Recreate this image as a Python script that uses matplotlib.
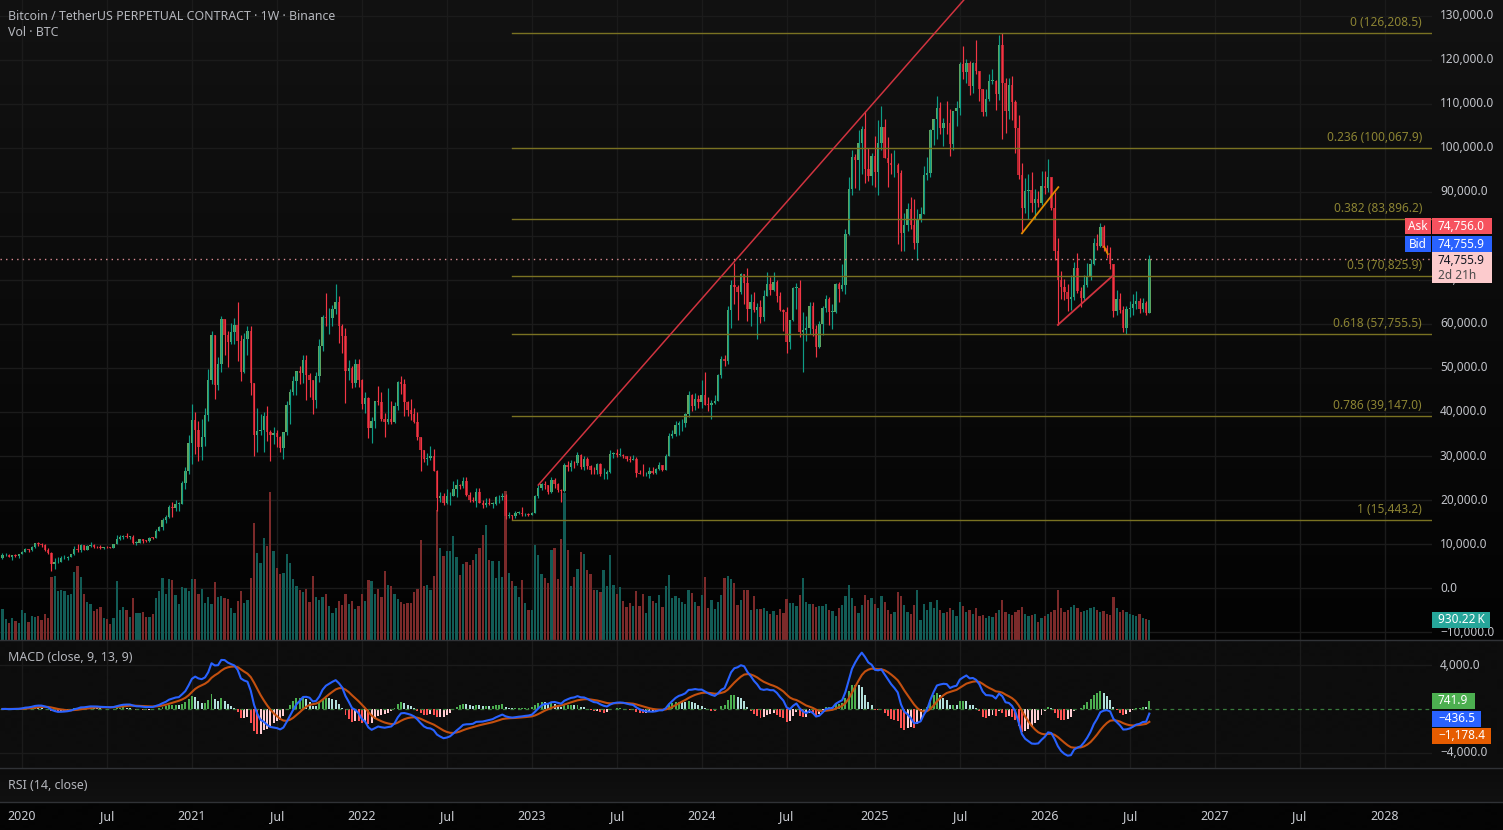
import numpy as np
import pandas as pd
import matplotlib
matplotlib.use("Agg")
import matplotlib.pyplot as plt
from matplotlib.patches import Rectangle
from matplotlib.transforms import blended_transform_factory, offset_copy

plt.rcParams['font.family'] = ['Noto Sans', 'DejaVu Sans']

# ------------------------------------------------------------------ data
FIRST_WEEK = "2019-11-25"          # date of the first weekly candle
first_open_k = 6.90                # open of the first candle (thousand USDT)

close_k = [
    7.42, 7.52, 7.10, 7.50, 7.38, 7.76, 8.18, 8.92, 8.60, 9.38,
    10.15, 9.92, 9.66, 8.53, 8.03, 5.36, 5.82, 5.88, 6.78, 6.90,
    7.12, 7.70, 8.90, 8.73, 9.68, 8.72, 9.45, 9.66, 9.33, 9.30,
    9.01, 9.29, 9.23, 9.16, 9.93, 11.05, 11.57, 11.85, 11.65, 11.70,
    10.28, 10.33, 11.09, 10.77, 10.69, 11.38, 11.36, 13.03, 13.80, 15.48,
    16.05, 18.40, 18.18, 19.15, 19.15, 23.85, 26.50, 33.00, 38.20, 36.00,
    32.10, 34.30, 39.30, 47.20, 57.50, 46.20, 51.00, 61.20, 57.40, 55.80,
    58.20, 59.80, 56.20, 49.10, 56.60, 58.30, 46.50, 34.80, 35.70, 35.80,
    39.00, 35.50, 34.70, 35.30, 34.30, 31.80, 35.40, 41.50, 44.60, 47.10,
    49.30, 48.80, 51.80, 48.30, 47.30, 42.70, 48.20, 54.90, 61.50, 61.30,
    61.30, 63.30, 65.00, 59.60, 57.30, 49.40, 50.10, 46.70, 50.80, 47.30,
    41.90, 43.10, 36.30, 37.90, 42.40, 42.20, 38.40, 37.70, 38.40, 37.80,
    41.30, 46.80, 46.40, 42.20, 40.40, 39.50, 37.70, 34.30, 31.30, 29.40,
    29.50, 29.90, 26.60, 20.55, 21.00, 19.30, 20.80, 20.80, 22.60, 23.30,
    23.20, 24.30, 21.10, 20.00, 19.80, 21.80, 19.40, 18.80, 19.30, 19.10,
    19.20, 20.60, 20.60, 20.90, 16.30, 16.60, 16.45, 17.10, 17.10, 16.75,
    16.85, 16.55, 17.13, 20.90, 22.70, 23.75, 23.30, 21.80, 24.60, 23.55,
    22.20, 22.10, 28.00, 27.50, 28.45, 28.30, 30.30, 27.60, 29.25, 27.70,
    26.90, 26.75, 28.10, 25.85, 25.90, 26.30, 30.50, 30.60, 30.30, 30.30,
    29.90, 29.25, 29.05, 29.30, 26.10, 26.00, 25.85, 25.85, 26.55, 26.25,
    27.00, 27.90, 26.85, 30.00, 34.50, 35.00, 37.10, 37.40, 37.45, 39.45,
    43.80, 41.40, 43.00, 42.30, 43.95, 41.70, 41.60, 42.00, 42.60, 48.30,
    52.10, 51.70, 63.10, 68.90, 68.30, 67.20, 71.30, 69.40, 63.40, 64.90,
    63.10, 63.90, 61.50, 66.30, 69.00, 67.80, 69.60, 66.30, 63.20, 62.70,
    55.90, 60.80, 68.20, 68.20, 58.10, 58.70, 59.00, 64.20, 58.90, 54.80,
    59.90, 63.60, 65.70, 62.80, 62.80, 69.00, 67.90, 68.80, 80.40, 90.60,
    97.90, 97.30, 101.10, 104.40, 95.20, 93.70, 98.20, 94.50, 101.10, 104.80,
    97.70, 96.50, 96.10, 96.20, 94.30, 80.70, 82.60, 86.10, 82.40, 78.40,
    83.80, 85.10, 93.80, 94.30, 104.10, 106.50, 109.00, 104.60, 105.70, 105.60,
    100.90, 108.40, 109.20, 119.10, 117.30, 119.40, 114.20, 119.30, 117.40, 113.50,
    108.20, 111.10, 115.30, 115.30, 112.20, 123.50, 114.70, 108.30, 114.30, 110.50,
    104.50, 93.90, 86.40, 90.20, 90.40, 87.60, 88.30, 87.60, 91.40, 90.80,
    93.40, 86.30, 76.60, 70.10, 68.50, 67.30, 65.60, 66.20, 72.70, 67.60,
    65.80, 68.90, 70.80, 73.60, 78.30, 77.80, 82.00, 77.20, 76.20, 73.60,
    63.00, 65.60, 63.20, 59.20, 63.30, 63.60, 64.50, 65.20, 63.30, 64.80,
    62.60, 74.7559,
]

high_k = [
    7.85, 7.90, 7.65, 7.60, 7.70, 7.80, 8.45, 9.20, 8.95, 9.60,
    10.20, 10.50, 10.25, 9.95, 9.19, 8.20, 6.90, 6.95, 7.20, 7.47,
    7.30, 7.80, 9.50, 10.00, 9.90, 9.85, 9.70, 10.40, 9.95, 9.60,
    9.80, 9.38, 9.45, 9.30, 10.00, 12.10, 12.00, 12.15, 12.50, 11.80,
    12.10, 10.60, 11.20, 11.00, 10.90, 11.50, 11.70, 13.35, 14.10, 15.95,
    16.50, 18.80, 19.50, 19.90, 19.50, 24.30, 27.40, 34.80, 41.90, 40.10,
    37.90, 38.50, 40.90, 49.70, 58.30, 57.50, 52.50, 61.80, 61.20, 58.40,
    60.20, 61.30, 64.90, 57.50, 58.00, 59.60, 59.60, 46.00, 40.80, 39.50,
    40.00, 41.30, 36.00, 36.60, 35.90, 34.60, 35.50, 42.60, 45.30, 48.10,
    49.40, 50.50, 52.90, 52.90, 48.80, 47.30, 49.20, 56.60, 62.00, 67.00,
    63.70, 64.30, 69.00, 66.30, 60.00, 59.20, 51.90, 50.40, 52.10, 52.10,
    47.60, 44.50, 43.50, 38.90, 42.50, 45.80, 44.50, 39.80, 45.40, 42.60,
    42.30, 47.00, 48.20, 47.50, 42.40, 42.90, 40.80, 40.00, 34.20, 31.30,
    30.70, 32.20, 31.50, 26.80, 21.80, 21.50, 22.40, 21.90, 24.30, 24.70,
    23.60, 25.20, 25.20, 21.90, 20.60, 22.80, 22.80, 19.90, 20.40, 20.50,
    19.50, 20.90, 21.10, 21.50, 21.40, 17.20, 16.70, 17.40, 17.40, 18.40,
    17.10, 16.95, 17.20, 21.20, 23.40, 23.95, 24.25, 23.40, 25.30, 25.10,
    23.90, 22.60, 28.40, 28.90, 29.20, 28.80, 31.00, 30.50, 30.00, 29.80,
    28.00, 27.60, 28.40, 28.45, 27.35, 26.80, 31.40, 31.00, 31.50, 31.80,
    30.40, 29.50, 30.00, 30.20, 29.70, 26.80, 28.10, 26.40, 27.50, 27.50,
    27.30, 28.60, 27.90, 30.40, 35.20, 35.90, 38.00, 37.90, 38.40, 39.70,
    44.70, 44.00, 44.40, 43.80, 47.20, 49.00, 43.30, 42.80, 43.90, 48.60,
    52.80, 52.90, 64.00, 69.90, 73.80, 68.90, 71.70, 71.30, 72.80, 66.90,
    67.20, 64.70, 65.50, 67.70, 71.90, 70.60, 71.90, 70.00, 67.20, 63.40,
    63.80, 61.00, 68.40, 69.40, 70.00, 62.70, 61.80, 65.00, 64.90, 59.80,
    60.70, 64.10, 66.50, 66.10, 64.50, 69.40, 69.50, 73.60, 81.50, 93.50,
    99.60, 98.70, 104.00, 105.00, 108.40, 99.90, 98.90, 102.70, 106.40, 109.60,
    106.50, 102.50, 98.80, 99.50, 96.60, 95.00, 85.20, 87.50, 88.80, 88.50,
    86.10, 86.50, 95.80, 97.90, 104.30, 106.70, 111.90, 110.40, 106.80, 110.60,
    108.90, 108.50, 110.60, 119.50, 123.20, 120.20, 119.80, 119.50, 124.50, 117.60,
    113.50, 113.40, 116.80, 117.90, 115.40, 125.70, 126.20, 115.90, 116.00, 116.40,
    111.00, 107.50, 96.60, 93.10, 94.20, 94.50, 90.70, 90.30, 94.80, 94.80,
    97.60, 93.50, 90.00, 79.50, 72.00, 70.20, 69.00, 71.20, 74.00, 76.10,
    68.50, 71.20, 73.80, 74.80, 79.50, 80.50, 83.00, 82.40, 78.00, 77.50,
    73.60, 67.80, 67.00, 64.00, 64.10, 65.20, 66.80, 67.50, 66.00, 65.80,
    65.30, 75.70,
]

low_k = [
    6.53, 7.20, 7.00, 6.40, 7.10, 6.90, 7.67, 8.10, 8.25, 8.50,
    9.10, 9.60, 9.30, 8.40, 7.63, 3.80, 4.40, 5.70, 5.85, 6.60,
    6.45, 7.00, 7.60, 8.10, 8.20, 8.60, 8.65, 9.30, 9.10, 9.20,
    8.95, 8.90, 9.05, 9.00, 9.10, 9.90, 10.95, 11.10, 11.30, 11.10,
    9.90, 9.80, 10.20, 10.15, 10.40, 10.50, 11.20, 11.30, 12.90, 13.20,
    14.80, 15.80, 16.20, 17.60, 17.60, 19.00, 22.40, 26.00, 28.10, 30.40,
    28.80, 29.20, 32.30, 37.90, 46.30, 43.00, 45.00, 49.20, 53.00, 50.30,
    55.50, 55.40, 51.50, 47.00, 48.80, 52.90, 43.80, 30.00, 31.00, 34.80,
    31.00, 33.30, 28.80, 32.70, 32.10, 31.00, 29.30, 34.80, 37.30, 43.80,
    43.90, 46.40, 46.50, 42.80, 43.40, 39.60, 40.80, 46.90, 53.90, 59.50,
    57.80, 59.50, 62.30, 55.60, 53.30, 42.00, 47.20, 45.50, 45.60, 45.70,
    40.60, 39.70, 34.00, 32.90, 36.30, 41.70, 38.00, 34.30, 37.20, 37.20,
    37.60, 40.50, 44.20, 39.20, 39.20, 38.20, 37.60, 33.70, 26.70, 28.60,
    28.00, 29.20, 26.50, 17.60, 19.60, 18.80, 19.00, 18.90, 20.80, 20.70,
    22.40, 22.70, 20.80, 19.50, 19.60, 18.50, 19.30, 18.10, 18.50, 18.90,
    18.20, 18.90, 19.30, 20.00, 15.60, 15.80, 15.47, 16.00, 16.90, 16.30,
    16.30, 16.30, 16.50, 17.10, 20.40, 22.30, 22.50, 21.40, 21.50, 22.80,
    21.90, 19.60, 21.90, 26.60, 26.50, 27.20, 28.00, 27.10, 26.90, 27.00,
    25.80, 26.00, 25.90, 25.40, 24.80, 24.80, 26.20, 29.50, 29.70, 29.90,
    29.60, 28.90, 28.60, 29.00, 25.20, 25.80, 25.40, 25.40, 24.90, 26.00,
    26.00, 26.90, 26.50, 26.80, 29.90, 34.00, 34.50, 34.80, 35.60, 36.70,
    38.90, 40.20, 40.50, 41.00, 40.80, 41.50, 40.30, 38.50, 41.90, 42.50,
    47.70, 50.50, 50.90, 59.00, 64.50, 60.80, 66.90, 64.50, 60.70, 59.60,
    62.80, 56.50, 60.20, 60.60, 66.30, 66.70, 67.50, 65.10, 63.00, 58.40,
    53.50, 54.30, 60.60, 63.40, 57.10, 49.00, 56.10, 57.80, 57.20, 52.50,
    54.60, 57.50, 62.70, 59.80, 58.90, 62.40, 65.10, 67.50, 66.80, 80.20,
    89.40, 90.80, 90.50, 94.10, 92.10, 92.50, 91.50, 91.20, 89.30, 99.50,
    97.70, 91.20, 94.10, 93.40, 78.20, 76.60, 76.60, 81.20, 81.60, 77.10,
    74.50, 83.10, 85.10, 92.80, 93.40, 100.70, 102.10, 103.10, 100.40, 103.20,
    98.20, 99.60, 105.10, 107.50, 115.70, 114.70, 112.00, 112.60, 116.80, 110.70,
    107.30, 107.30, 110.60, 114.60, 108.60, 111.00, 102.00, 103.50, 106.70, 106.30,
    98.90, 93.00, 80.70, 85.30, 83.90, 85.40, 83.80, 86.50, 87.00, 89.50,
    90.00, 86.00, 74.50, 59.80, 65.70, 65.40, 62.90, 63.20, 65.50, 67.00,
    63.80, 65.50, 68.40, 70.00, 73.50, 76.80, 77.50, 76.50, 75.00, 72.40,
    61.50, 62.00, 62.50, 58.20, 57.80, 61.50, 62.00, 63.50, 62.50, 62.80,
    62.00, 62.50,
]

volume_k = [   # weekly volume, thousand BTC
    1440, 980, 790, 1020, 880, 790, 1400, 1260, 840, 1120,
    1070, 1120, 930, 1210, 1020, 2930, 2980, 2280, 2330, 2280,
    2090, 2140, 3160, 3440, 2930, 2140, 1770, 1670, 1350, 1440,
    1530, 1020, 980, 740, 1020, 2740, 1400, 1530, 1400, 1070,
    1950, 1260, 1260, 1300, 1070, 1070, 1210, 1950, 2280, 2880,
    2140, 2840, 2790, 2090, 1670, 2460, 2420, 2280, 2840, 2840,
    2140, 2370, 1720, 2000, 1670, 2700, 2000, 2050, 1950, 1910,
    1490, 1260, 1810, 2280, 1720, 1860, 2880, 5440, 4050, 3580,
    4740, 4370, 6880, 4140, 3350, 3070, 3120, 4000, 3580, 2840,
    2510, 2330, 2230, 2370, 1770, 2980, 2000, 1860, 2000, 2140,
    1580, 1260, 1490, 1810, 1630, 2140, 1670, 1810, 1440, 1580,
    2140, 1810, 2790, 2740, 2140, 2370, 2000, 3210, 2560, 2510,
    2140, 1910, 1770, 1670, 1720, 1720, 2230, 2370, 4650, 2510,
    2560, 2330, 2980, 6050, 4280, 3910, 4140, 4140, 4840, 3860,
    3020, 3530, 3630, 3490, 3720, 4000, 4280, 4880, 5350, 3720,
    3670, 2880, 3670, 2930, 6930, 3120, 2740, 2510, 2000, 2790,
    1720, 1400, 1400, 4420, 3950, 3070, 2880, 2650, 4190, 4280,
    2840, 4700, 6840, 4190, 2510, 2930, 3300, 4090, 4000, 3260,
    3070, 2330, 2330, 2230, 3260, 2510, 3950, 2560, 2140, 2460,
    1810, 1530, 1720, 1580, 2280, 1580, 2140, 1260, 2050, 1810,
    1720, 2090, 1530, 2510, 3020, 1950, 2050, 1950, 1770, 1670,
    2330, 2190, 1770, 1580, 2090, 2930, 1490, 1860, 1440, 1770,
    2090, 2880, 2980, 2840, 2650, 1630, 1860, 2330, 2330, 1400,
    2050, 1440, 1440, 1490, 1350, 1210, 1350, 1160, 1440, 1260,
    1910, 1720, 1720, 1580, 2090, 2880, 1770, 1670, 1670, 1530,
    1580, 1580, 1670, 1400, 1350, 1120, 1490, 1630, 2050, 2560,
    1950, 1580, 1260, 1630, 2090, 1860, 1950, 1670, 1490, 2050,
    1770, 1400, 1210, 1300, 2230, 2050, 1630, 1300, 1210, 1630,
    2330, 930, 1670, 1400, 1770, 1490, 1860, 1400, 1260, 1300,
    1490, 1400, 1120, 1770, 1580, 1300, 1400, 1210, 1490, 1120,
    1160, 1020, 1120, 1070, 1260, 1400, 1860, 1300, 1210, 1160,
    1300, 1400, 1530, 1210, 1120, 1160, 1210, 840, 1020, 1120,
    1210, 1300, 1400, 2330, 1490, 1300, 1400, 1530, 1630, 1490,
    1300, 1350, 1400, 1490, 1530, 1400, 1300, 1350, 1210, 1160,
    2000, 1490, 1300, 1400, 1300, 1210, 1160, 1120, 1210, 1020,
    980, 930.22,
]

title_text = "Bitcoin / TetherUS PERPETUAL CONTRACT \u00b7 1W \u00b7 Binance"
vol_title = "Vol \u00b7 BTC"
macd_title = "MACD (close, 9, 13, 9)"
rsi_title = "RSI (14, close)"
macd_fast, macd_slow, macd_sig = 9, 13, 9

last_price = 74755.9
ask_text, bid_text, last_text, countdown = "74,756.0", "74,755.9", "74,755.9", "2d 21h"
volume_last_text = "930.22\u2009K"
hist_last, macd_last, signal_last = 741.9, -436.5, -1178.4
hist_text, macd_text, signal_text = "741.9", "\u2212436.5", "\u22121,178.4"

fib_ratios = [0, 0.236, 0.382, 0.5, 0.618, 0.786, 1]
fib_prices = [126208.5, 100067.9, 83896.2, 70825.9, 57755.5, 39147.0, 15443.2]
fib_anchor_week = "2022-11-21"

red_ray_pts = [("2023-01-16", 23400), ("2024-04-22", 79270)]
orange_line_pts = [("2025-11-17", 80600), ("2026-02-03", 91100)]
red_line2_pts = [("2026-02-02", 59800), ("2026-06-01", 71100)]
orange_tick_pts = [("2026-05-12", 77600), ("2026-05-20", 75900)]

price_ticks = list(range(-10000, 130001, 10000))
hidden_price_ticks = [80000]      # fully covered by the Ask/Bid badges
macd_ticks = [-4000, 4000]

# ------------------------------------------------------------------ derived
n = len(close_k)
assert len(high_k) == n and len(low_k) == n and len(volume_k) == n
start = pd.Timestamp(FIRST_WEEK)

def wpos(d):
    return (pd.Timestamp(d) - start).days / 7.0

idx = np.arange(n)
close = np.array(close_k) * 1000
open_ = np.r_[first_open_k * 1000, close[:-1]]
high = np.maximum(np.array(high_k) * 1000, np.maximum(open_, close))
low = np.minimum(np.array(low_k) * 1000, np.minimum(open_, close))
vol = np.array(volume_k, dtype=float)
up = close >= open_

s = pd.Series(close)
macd = (s.ewm(span=macd_fast, adjust=False).mean() - s.ewm(span=macd_slow, adjust=False).mean()).values
signal = pd.Series(macd).ewm(span=macd_sig, adjust=False).mean().values
hist = macd - signal
prev = np.r_[hist[0], hist[:-1]]
hist_col = np.where(hist >= 0,
                    np.where(hist > prev, '#4CAF50', '#B2DFDB'),
                    np.where(hist > prev, '#FFCDD2', '#FF5252'))

# time labels: first weekly bar of Jan / Jul
tick_pos, tick_lab, tick_year = [], [], []
for y in range(2020, 2029):
    for m in (1, 7):
        if y == 2028 and m == 7:
            continue
        d = pd.Timestamp(y, m, 1)
        d = d + pd.Timedelta(days=(7 - d.weekday()) % 7)
        tick_pos.append(wpos(d))
        tick_lab.append(str(y) if m == 1 else "Jul")
        tick_year.append(m == 1)

# ------------------------------------------------------------------ layout
W, H = 1503, 830
PLOT_R = 1432
MAIN_B, MACD_B, RSI_B = 640, 768, 802
XLIM = (-0.73, 437.5)
PRICE_LIM = (-11818, 133636)
VOL_TOP = 29760
MACD_LIM = (-5398, 6313)

fig = plt.figure(figsize=(W / 100, H / 100), dpi=100)

def rect(x0, y0, x1, y1):
    return [x0 / W, 1 - y1 / H, (x1 - x0) / W, (y1 - y0) / H]

# background
bg = fig.add_axes([0, 0, 1, 1], zorder=0)
rows = np.zeros((H, 1, 3))
for r in range(H):
    if r < MAIN_B:
        v = 18 - 15 * r / MAIN_B
    elif r < MACD_B:
        v = 13
    elif r < RSI_B:
        v = 12 + 5 * (r - MACD_B) / (RSI_B - MACD_B)
    else:
        v = 4
    rows[r, 0, :] = v / 255
bg.imshow(rows, aspect='auto', extent=[0, W, H, 0], interpolation='bilinear')
bg.set_xlim(0, W); bg.set_ylim(H, 0); bg.axis('off')

def clean(a):
    a.set_facecolor('none')
    for sp in a.spines.values():
        sp.set_visible(False)
    a.tick_params(length=0, labelleft=False, labelbottom=False,
                  labelright=False, labeltop=False)
    a.set_xlim(*XLIM)

GRID = '#1b1b1b'
ax_grid = fig.add_axes(rect(0, 0, PLOT_R, MAIN_B), zorder=1)
ax_vol = fig.add_axes(rect(0, 0, PLOT_R, MAIN_B), zorder=2)
ax = fig.add_axes(rect(0, 0, PLOT_R, MAIN_B), zorder=3)
ax_m = fig.add_axes(rect(0, MAIN_B, PLOT_R, MACD_B), zorder=3)
ax_r = fig.add_axes(rect(0, MACD_B, PLOT_R, RSI_B), zorder=3)
for a in (ax_grid, ax_vol, ax, ax_m, ax_r):
    clean(a)

ax_grid.set_ylim(*PRICE_LIM)
ax_grid.set_xticks(tick_pos); ax_grid.set_yticks(price_ticks)
ax_grid.grid(True, color=GRID, lw=1)

# volume
ax_vol.set_ylim(0, VOL_TOP)
ax_vol.bar(idx, vol, width=0.7, color=np.where(up, '#125C56', '#7B2A2A'), linewidth=0)

# candles
ax.set_ylim(*PRICE_LIM)
ax.vlines(idx, low, high, colors=np.where(up, '#0E9C86', '#F23645'), lw=0.85)
body_lo = np.minimum(open_, close)
body_h = np.maximum(np.abs(close - open_), 120)
ax.bar(idx, body_h, bottom=body_lo, width=0.74,
       color=np.where(up, '#62A55E', '#B3242F'), linewidth=0)

# fib levels
fx0 = wpos(fib_anchor_week)
ftrans = offset_copy(blended_transform_factory(fig.transFigure, ax.transData),
                     fig=fig, y=4, units='dots')
for r, p in zip(fib_ratios, fib_prices):
    ax.plot([fx0, XLIM[1]], [p, p], color='#7A7222', lw=1.0)
    ax.text(1422 / W, p, f"{r:g} ({p:,.1f})", transform=ftrans, ha='right',
            va='bottom', color='#8C8433', fontsize=8.6, clip_on=False)

# trend lines
def seg(pts):
    return [wpos(d) for d, _ in pts], [v for _, v in pts]

rx, ry = seg(red_ray_pts)
slope = (ry[1] - ry[0]) / (rx[1] - rx[0])
ax.plot([rx[0], XLIM[1]], [ry[0], ry[0] + slope * (XLIM[1] - rx[0])],
        color='#D0333F', lw=1.1)
for pts, col in ((orange_line_pts, '#E08A00'), (red_line2_pts, '#D0333F'),
                 (orange_tick_pts, '#E08A00')):
    x_, y_ = seg(pts)
    ax.plot(x_, y_, color=col, lw=1.3)

# current price dotted line
ax.plot(XLIM, [last_price, last_price], color='#D98A90', lw=1.0,
        linestyle=(0, (1, 3)))

# MACD pane
ax_m.set_ylim(*MACD_LIM)
ax_m.set_xticks(tick_pos); ax_m.set_yticks(macd_ticks)
ax_m.grid(True, color=GRID, lw=1)
ax_m.set_axisbelow(True)
ax_m.plot(XLIM, [0, 0], color='#3A7A3C', lw=0.9, linestyle=(0, (3, 3)))
ax_m.bar(idx, hist, width=0.6, color=hist_col, linewidth=0)
ax_m.plot(idx, signal, color='#C4500F', lw=1.5)
ax_m.plot(idx, macd, color='#2962FF', lw=1.5)

# RSI pane: time labels
ax_r.set_ylim(0, 1)
ax_r.set_xticks(tick_pos)
ax_r.set_xticklabels(tick_lab)
ax_r.tick_params(labelbottom=True, pad=5.5, labelsize=9, labelcolor='#C9CBD1')
for lab, isy in zip(ax_r.get_xticklabels(), tick_year):
    lab.set_fontweight('bold' if isy else 'normal')

# titles
TXT = '#B5B7BD'
fig.text(8 / W, 1 - 16 / H, title_text, color=TXT, fontsize=8.95, va='center')
fig.text(8 / W, 1 - 33 / H, vol_title, color=TXT, fontsize=8.95, va='center')
fig.text(8 / W, 1 - 657 / H, macd_title, color=TXT, fontsize=8.95, va='center')
fig.text(8 / W, 1 - 785 / H, rsi_title, color=TXT, fontsize=8.95, va='center')

# right price scale labels
AX_TXT = '#C3C5CB'
def fmt(v):
    s_ = f"{abs(v):,.1f}"
    return ("\u2212" + s_) if v < 0 else s_
ptrans = blended_transform_factory(fig.transFigure, ax.transData)
for v in price_ticks:
    if v in hidden_price_ticks:
        continue
    ax.text(1440 / W, v, fmt(v), transform=ptrans, ha='left', va='center',
            color=AX_TXT, fontsize=8.5, clip_on=False)
mtrans = blended_transform_factory(fig.transFigure, ax_m.transData)
for v in macd_ticks:
    ax_m.text(1440 / W, v, fmt(v), transform=mtrans, ha='left', va='center',
              color=AX_TXT, fontsize=8.5, clip_on=False)

# overlay (pixel coordinates) for separators and value badges
ov = fig.add_axes([0, 0, 1, 1], zorder=6)
ov.set_xlim(0, W); ov.set_ylim(H, 0); ov.axis('off')

def ypx(a, v):
    return H - a.transData.transform((0, v))[1]

for yb in (MAIN_B, MACD_B, RSI_B):
    ov.plot([0, W], [yb, yb], color='#303236', lw=1.0)

def badge(x0, x1, yc, h, col, text, tcol='white', weight='normal', size=8.5):
    ov.add_patch(Rectangle((x0, yc - h / 2), x1 - x0, h, color=col, lw=0))
    ov.text((x0 + x1) / 2 if x0 < 1432 else x0 + 6, yc, text,
            ha='center' if x0 < 1432 else 'left', va='center',
            color=tcol, fontsize=size, fontweight=weight)

yp = ypx(ax, last_price)
badge(1405, 1431, yp - 33, 16, '#F7525F', 'Ask', weight='bold')
badge(1432, 1492, yp - 33, 16, '#F7525F', ask_text, weight='bold')
badge(1405, 1431, yp - 15, 16, '#2962FF', 'Bid', weight='bold')
badge(1432, 1492, yp - 15, 16, '#2962FF', bid_text, weight='bold')
ov.add_patch(Rectangle((1432, yp - 7), 60, 31, color='#FCCBCD', lw=0))
ov.text(1438, yp + 1, last_text, ha='left', va='center', color='#131722', fontsize=8.5)
ov.text(1438, yp + 16, countdown, ha='left', va='center', color='#4A4A4A', fontsize=8.5)

yv = H - ax_vol.transData.transform((0, vol[-1]))[1]
badge(1432, 1490, yv, 16, '#26A69A', volume_last_text, weight='bold')

yh = ypx(ax_m, hist_last)
badge(1432, 1475, yh, 16, '#4CAF50', hist_text, weight='bold')
badge(1432, 1481, yh + 18, 16, '#2962FF', macd_text, weight='bold')
badge(1432, 1491, yh + 35, 16, '#E65C00', signal_text, weight='bold')

fig.savefig("out.png", dpi=100, facecolor='black')
